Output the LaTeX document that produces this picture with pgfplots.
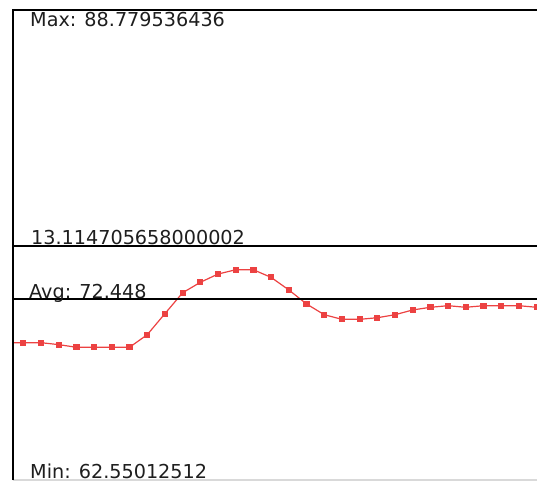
\documentclass[border=0pt]{standalone}
\usepackage{pgfplots}
\pgfplotsset{compat=1.18}
\usepackage{fontspec}
\setmainfont{DejaVu Sans}
\definecolor{sred}{RGB}{236,66,66}
\definecolor{txt}{RGB}{30,30,30}
\begin{document}
\begin{tikzpicture}[x=1pt,y=1pt]
\useasboundingbox (0,0) rectangle (537,482);
\begin{axis}[at={(13pt,2pt)}, anchor=south west, scale only axis,
  width=524pt, height=470pt,
  xmin=-0.582, xmax=29.02, ymin=62.22, ymax=88.78,
  axis line style={draw=none}, ticks=none,
  font=\fontsize{19.2}{21}\selectfont]
\addplot[color=sred, line width=1.2pt, mark=square*, mark size=2.5pt, mark options={draw=sred,fill=sred}] coordinates {
(-1,69.98) (0,69.98) (1,69.98) (2,69.87) (3,69.72) (4,69.72) (5,69.72) (6,69.72)
(7,70.43) (8,71.62) (9,72.80) (10,73.39) (11,73.86) (12,74.10) (13,74.10)
(14,73.67) (15,72.96) (16,72.17) (17,71.56) (18,71.30) (19,71.30) (20,71.39)
(21,71.56) (22,71.83) (23,71.98) (24,72.07) (25,71.98) (26,72.07) (27,72.07)
(28,72.07) (29,71.98)
};
\draw[black, line width=1.4pt] (axis cs:-0.582,75.44) -- (axis cs:29.02,75.44);
\draw[black, line width=1.4pt] (axis cs:-0.582,72.448) -- (axis cs:29.02,72.448);
\draw[black!15, line width=1.2pt] (rel axis cs:0,0) -- (rel axis cs:1,0);
\node[anchor=base west, inner sep=0pt, text=txt] at ([xshift=17pt,yshift=-17pt]rel axis cs:0,1) {Max: 88.779536436};
\node[anchor=base west, inner sep=0pt, text=txt] at ([xshift=18pt,yshift=1.5pt]axis cs:-0.582,75.44) {13.114705658000002};
\node[anchor=base west, inner sep=0pt, text=txt] at ([xshift=16pt,yshift=1pt]axis cs:-0.582,72.448) {Avg: 72.448};
\node[anchor=base west, inner sep=0pt, text=txt] at ([xshift=17pt,yshift=2pt]rel axis cs:0,0) {Min: 62.55012512};
\end{axis}
\draw[black, line width=2pt] (13,2) -- (13,472) -- (537,472);
\end{tikzpicture}
\end{document}
